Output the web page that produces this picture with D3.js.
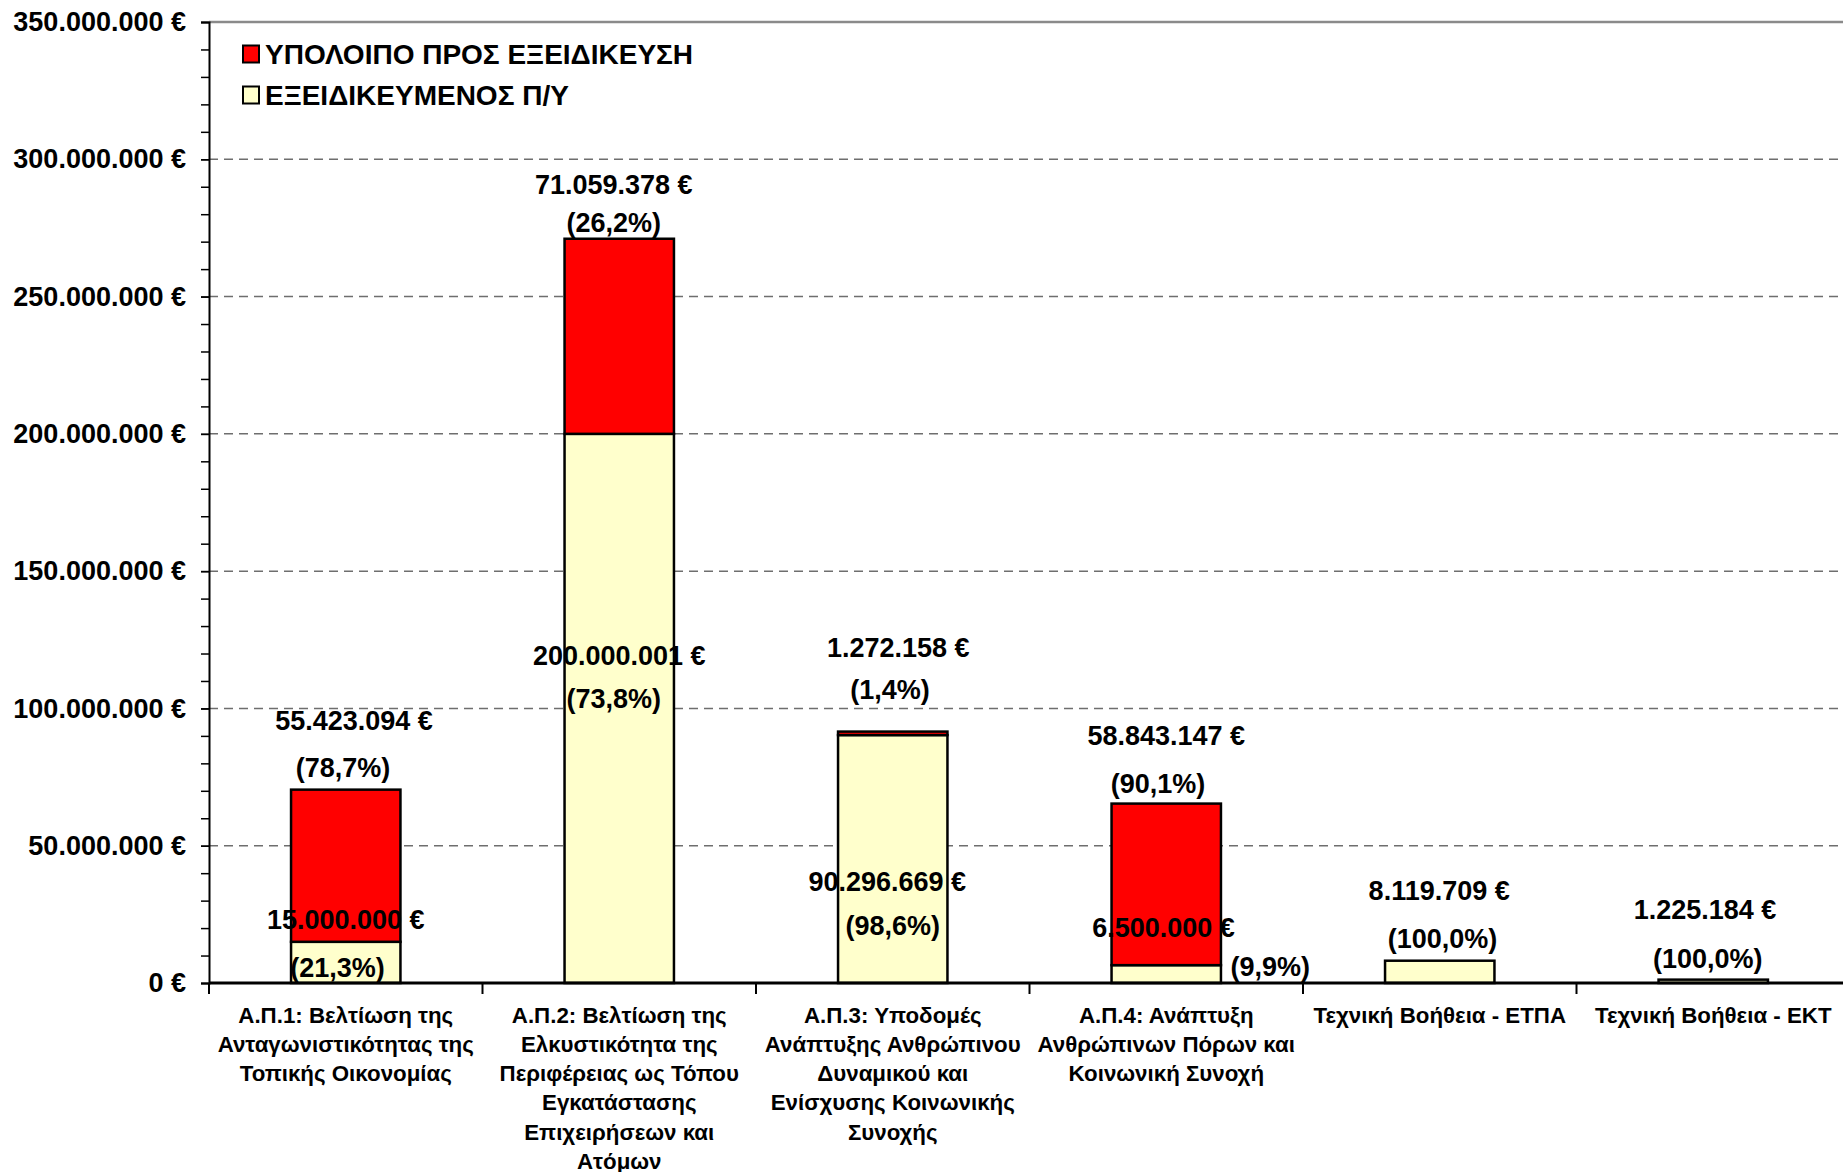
<!DOCTYPE html>
<html><head><meta charset="utf-8">
<script src="https://cdn.jsdelivr.net/npm/d3@7"></script>
<style>
html,body{margin:0;padding:0;background:#fff;}
svg{display:block;font-family:"Liberation Sans",Arial,sans-serif;font-weight:bold;}
</style></head>
<body>
<svg id="chart" width="1843" height="1172"></svg>
<script>
// ---- data ----
const categories = ["AP1","AP2","AP3","AP4","TB_ETPA","TB_EKT"];
const categoryLines = [
  ["Α.Π.1: Βελτίωση της","Ανταγωνιστικότητας της","Τοπικής Οικονομίας"],
  ["Α.Π.2: Βελτίωση της","Ελκυστικότητα της","Περιφέρειας ως Τόπου","Εγκατάστασης","Επιχειρήσεων και","Ατόμων"],
  ["Α.Π.3: Υποδομές","Ανάπτυξης Ανθρώπινου","Δυναμικού και","Ενίσχυσης Κοινωνικής","Συνοχής"],
  ["Α.Π.4: Ανάπτυξη","Ανθρώπινων Πόρων και","Κοινωνική Συνοχή"],
  ["Τεχνική Βοήθεια - ΕΤΠΑ"],
  ["Τεχνική Βοήθεια - ΕΚΤ"]
];
const specified = [15000000, 200000001, 90296669, 6500000, 8119709, 1225184];   // ΕΞΕΙΔΙΚΕΥΜΕΝΟΣ Π/Υ
const remaining = [55423094, 71059378, 1272158, 58843147, 0, 0];                // ΥΠΟΛΟΙΠΟ ΠΡΟΣ ΕΞΕΙΔΙΚΕΥΣΗ
const seriesNames = ["ΥΠΟΛΟΙΠΟ ΠΡΟΣ ΕΞΕΙΔΙΚΕΥΣΗ","ΕΞΕΙΔΙΚΕΥΜΕΝΟΣ Π/Υ"];
const yTicks = [0,50000000,100000000,150000000,200000000,250000000,300000000,350000000];

// label placement (in value units, as placed in the original)
const labelLayout = {
  remAmt:  [95.5e6, 290.5e6, 122.1e6, 90.0e6, null, null],
  remPct:  [78.4e6, 276.8e6, 106.7e6, 72.4e6, null, null],
  specAmt: [23.1e6, 119.1e6, 36.8e6, 20.1e6, 33.4e6, 26.6e6],
  specPct: [5.6e6, 103.3e6, 20.6e6, 6.0e6, 15.9e6, 8.6e6],
  specPctDx: [-0.03, -0.02, 0, 0.38, 0.01, -0.02],
  remAmtDx: [0.03, -0.02, 0.02, 0, 0, 0],
  remPctDx: [-0.01, -0.02, -0.01, -0.03, 0, 0],
  specAmtDx: [0, 0, -0.02, -0.01, -0.002, -0.03]
};

(function(){
// ---- layout ----
const W = 1843, H = 1172;
const mLeft = 209, mRight = 1850, mTop = 22, mBottom = 983;
const svg = d3.select("#chart");

const x = d3.scaleBand().domain(categories).range([mLeft, mRight]).paddingInner(0.6).paddingOuter(0.3);
const step = x.step();
const y = d3.scaleLinear().domain([0, 350000000]).range([mBottom, mTop]);

const loc = d3.formatLocale({decimal:",", thousands:".", grouping:[3], currency:["",""]});
const fmtInt = loc.format(",d");
const fmtPct = loc.format(".1f");
const euro = v => fmtInt(v) + " €";

// gridlines
svg.append("g").selectAll("line").data(yTicks.filter(t => t > 0 && t < 350000000)).join("line")
  .attr("x1", mLeft).attr("x2", W).attr("y1", d => y(d)).attr("y2", d => y(d))
  .attr("stroke", "#6e6e6e").attr("stroke-width", 1.5).attr("stroke-dasharray", "9,6");
// top border
svg.append("line").attr("x1", mLeft).attr("x2", W).attr("y1", y(350000000)).attr("y2", y(350000000))
  .attr("stroke", "#8a8a8a").attr("stroke-width", 2.5);

// bars
const stackData = categories.map((c, i) => ({c, i, spec: specified[i], rem: remaining[i]}));
const barG = svg.append("g");
barG.selectAll("rect.spec").data(stackData).join("rect").attr("class","spec")
  .attr("x", d => x(d.c)).attr("width", x.bandwidth())
  .attr("y", d => y(d.spec)).attr("height", d => y(0) - y(d.spec))
  .attr("fill", "#FFFFCC").attr("stroke", "#000").attr("stroke-width", 2.5);
barG.selectAll("rect.rem").data(stackData.filter(d => d.rem > 0)).join("rect").attr("class","rem")
  .attr("x", d => x(d.c)).attr("width", x.bandwidth())
  .attr("y", d => y(d.spec + d.rem)).attr("height", d => y(d.spec) - y(d.spec + d.rem))
  .attr("fill", "#FF0000").attr("stroke", "#000").attr("stroke-width", 2.5);

// y axis
const yAxis = svg.append("g").attr("transform", `translate(${mLeft},0)`)
  .call(d3.axisLeft(y).tickValues(yTicks).tickSize(8).tickPadding(15).tickFormat(euro));
yAxis.select(".domain").attr("stroke", "#000").attr("stroke-width", 2);
yAxis.selectAll(".tick line").attr("stroke", "#000").attr("stroke-width", 1.5);
yAxis.selectAll("text").attr("font-size", 27).attr("font-weight", "bold").attr("fill", "#000")
  .attr("font-family", '"Liberation Sans",Arial,sans-serif');
const minor = svg.append("g").attr("transform", `translate(${mLeft},0)`)
  .call(d3.axisLeft(y).tickValues(d3.range(0, 350000001, 10000000)).tickSize(8).tickFormat(""));
minor.select(".domain").remove();
minor.selectAll(".tick line").attr("stroke", "#000").attr("stroke-width", 1.5);

// x axis
svg.append("line").attr("x1", mLeft).attr("x2", W).attr("y1", y(0)).attr("y2", y(0))
  .attr("stroke", "#000").attr("stroke-width", 3);
svg.append("g").selectAll("line").data(d3.range(0, categories.length + 1)).join("line")
  .attr("x1", i => mLeft + i * step).attr("x2", i => mLeft + i * step)
  .attr("y1", y(0)).attr("y2", y(0) + 11).attr("stroke", "#000").attr("stroke-width", 2);

// category labels
const catG = svg.append("g");
categories.forEach((c, i) => {
  const t = catG.append("text").attr("text-anchor", "middle").attr("font-size", 22.3).attr("fill", "#000");
  categoryLines[i].forEach((ln, j) => {
    t.append("tspan").attr("x", x(c) + x.bandwidth() / 2).attr("y", y(0) + 32 + j * 29.3)
      .attr("dominant-baseline", "central").text(ln);
  });
});

// value labels
const lblG = svg.append("g").attr("font-size", 27).attr("fill", "#000").attr("text-anchor", "middle");
stackData.forEach(d => {
  const cx = x(d.c) + x.bandwidth() / 2;
  const tot = d.spec + d.rem;
  if (d.rem > 0) {
    lblG.append("text").attr("x", cx + labelLayout.remAmtDx[d.i] * step).attr("y", y(labelLayout.remAmt[d.i]))
      .attr("dominant-baseline", "central").text(euro(d.rem));
    lblG.append("text").attr("x", cx + labelLayout.remPctDx[d.i] * step).attr("y", y(labelLayout.remPct[d.i]))
      .attr("dominant-baseline", "central").text("(" + fmtPct(d.rem / tot * 100) + "%)");
  }
  lblG.append("text").attr("x", cx + labelLayout.specAmtDx[d.i] * step).attr("y", y(labelLayout.specAmt[d.i]))
    .attr("dominant-baseline", "central").text(euro(d.spec));
  lblG.append("text").attr("x", cx + labelLayout.specPctDx[d.i] * step).attr("y", y(labelLayout.specPct[d.i]))
    .attr("dominant-baseline", "central").text("(" + fmtPct(d.spec / tot * 100) + "%)");
});

// legend
const legColors = ["#FF0000", "#FFFFCC"];
const leg = svg.append("g");
seriesNames.forEach((n, i) => {
  const ly = 54 + i * 41;
  leg.append("rect").attr("x", 243).attr("y", ly - 8.5).attr("width", 16).attr("height", 17)
    .attr("fill", legColors[i]).attr("stroke", "#000").attr("stroke-width", 2);
  leg.append("text").attr("x", 265).attr("y", ly).attr("dominant-baseline", "central")
    .attr("font-size", 28).attr("fill", "#000").text(n);
});
})();
</script>
</body></html>
